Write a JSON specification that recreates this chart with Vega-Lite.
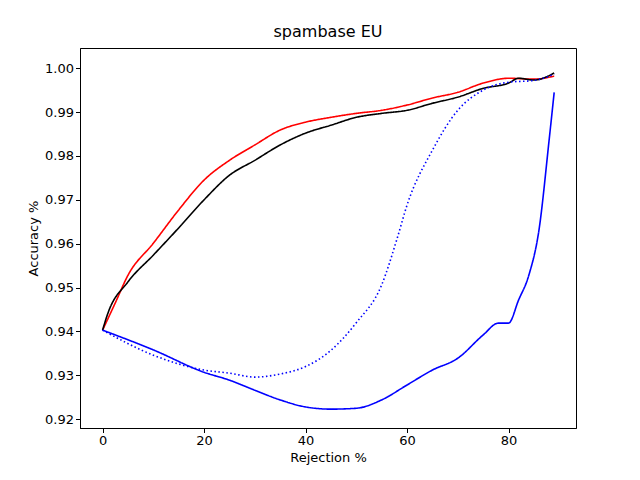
{
  "$schema": "https://vega.github.io/schema/vega-lite/v6.json",
  "width": 496,
  "height": 380,
  "autosize": "none",
  "padding": {"left": 80, "top": 48, "right": 64, "bottom": 52},
  "background": "white",
  "title": {"text": "spambase EU", "font": "DejaVu Sans", "fontSize": 16, "fontWeight": "normal", "color": "black", "offset": 8},
  "data": {"values": [
    {"s": "red", "x": 0, "y": 0.9403}, {"s": "red", "x": 2.5, "y": 0.9465}, {"s": "red", "x": 5, "y": 0.9528}, {"s": "red", "x": 10, "y": 0.9601}, {"s": "red", "x": 15, "y": 0.9677}, {"s": "red", "x": 20, "y": 0.9745}, {"s": "red", "x": 25, "y": 0.979}, {"s": "red", "x": 30, "y": 0.9825}, {"s": "red", "x": 35, "y": 0.9859}, {"s": "red", "x": 40, "y": 0.9877}, {"s": "red", "x": 45, "y": 0.9888}, {"s": "red", "x": 50, "y": 0.9897}, {"s": "red", "x": 55, "y": 0.9904}, {"s": "red", "x": 60, "y": 0.9916}, {"s": "red", "x": 65, "y": 0.9932}, {"s": "red", "x": 70, "y": 0.9945}, {"s": "red", "x": 75, "y": 0.9966}, {"s": "red", "x": 80, "y": 0.9977}, {"s": "red", "x": 85, "y": 0.9975}, {"s": "red", "x": 89, "y": 0.9982},
    {"s": "black", "x": 0, "y": 0.9403}, {"s": "black", "x": 1, "y": 0.944}, {"s": "black", "x": 5, "y": 0.9513}, {"s": "black", "x": 10, "y": 0.9574}, {"s": "black", "x": 15, "y": 0.9636}, {"s": "black", "x": 20, "y": 0.970}, {"s": "black", "x": 25, "y": 0.9756}, {"s": "black", "x": 30, "y": 0.979}, {"s": "black", "x": 35, "y": 0.9825}, {"s": "black", "x": 40, "y": 0.9852}, {"s": "black", "x": 45, "y": 0.987}, {"s": "black", "x": 50, "y": 0.9888}, {"s": "black", "x": 55, "y": 0.9897}, {"s": "black", "x": 60, "y": 0.9904}, {"s": "black", "x": 65, "y": 0.992}, {"s": "black", "x": 70, "y": 0.9934}, {"s": "black", "x": 75, "y": 0.9954}, {"s": "black", "x": 80, "y": 0.9966}, {"s": "black", "x": 82, "y": 0.9977}, {"s": "black", "x": 85, "y": 0.9973}, {"s": "black", "x": 89, "y": 0.9989},
    {"s": "dot", "x": 0, "y": 0.9403}, {"s": "dot", "x": 10, "y": 0.9346}, {"s": "dot", "x": 20, "y": 0.9312}, {"s": "dot", "x": 25, "y": 0.9305}, {"s": "dot", "x": 30, "y": 0.9296}, {"s": "dot", "x": 35, "y": 0.9303}, {"s": "dot", "x": 40, "y": 0.932}, {"s": "dot", "x": 45, "y": 0.9357}, {"s": "dot", "x": 50, "y": 0.942}, {"s": "dot", "x": 55, "y": 0.9506}, {"s": "dot", "x": 58, "y": 0.961}, {"s": "dot", "x": 60, "y": 0.9688}, {"s": "dot", "x": 65, "y": 0.9813}, {"s": "dot", "x": 70, "y": 0.9904}, {"s": "dot", "x": 75, "y": 0.995}, {"s": "dot", "x": 80, "y": 0.9968}, {"s": "dot", "x": 85, "y": 0.9972}, {"s": "dot", "x": 89, "y": 0.9986},
    {"s": "blue", "x": 0, "y": 0.9403}, {"s": "blue", "x": 10, "y": 0.9358}, {"s": "blue", "x": 20, "y": 0.9307}, {"s": "blue", "x": 25, "y": 0.9289}, {"s": "blue", "x": 30, "y": 0.9266}, {"s": "blue", "x": 35, "y": 0.9244}, {"s": "blue", "x": 40, "y": 0.9228}, {"s": "blue", "x": 45, "y": 0.9223}, {"s": "blue", "x": 50, "y": 0.9225}, {"s": "blue", "x": 55, "y": 0.9244}, {"s": "blue", "x": 60, "y": 0.9278}, {"s": "blue", "x": 65, "y": 0.9312}, {"s": "blue", "x": 70, "y": 0.9339}, {"s": "blue", "x": 75, "y": 0.9392}, {"s": "blue", "x": 78, "y": 0.9419}, {"s": "blue", "x": 80, "y": 0.9419}, {"s": "blue", "x": 82, "y": 0.9472}, {"s": "blue", "x": 84, "y": 0.9528}, {"s": "blue", "x": 86, "y": 0.9631}, {"s": "blue", "x": 88, "y": 0.9836}, {"s": "blue", "x": 89, "y": 0.9945}
  ]},
  "mark": {"type": "line", "strokeWidth": 1.6, "clip": true, "interpolate": "monotone"},
  "encoding": {
    "x": {"field": "x", "type": "quantitative", "title": "Rejection %",
      "scale": {"domain": [-4.45, 93.3], "nice": false, "zero": false},
      "axis": {"values": [0, 20, 40, 60, 80], "grid": false, "tickColor": "black", "domainColor": "black", "labelColor": "black", "titleColor": "black", "labelFont": "DejaVu Sans", "titleFont": "DejaVu Sans", "labelFontSize": 13, "titleFontSize": 13, "titleFontWeight": "normal", "tickSize": 4.5}},
    "y": {"field": "y", "type": "quantitative", "title": "Accuracy %",
      "scale": {"domain": [0.918, 1.0046], "nice": false, "zero": false},
      "axis": {"values": [0.92, 0.93, 0.94, 0.95, 0.96, 0.97, 0.98, 0.99, 1.0], "format": ".2f", "grid": false, "tickColor": "black", "domainColor": "black", "labelColor": "black", "titleColor": "black", "labelFont": "DejaVu Sans", "titleFont": "DejaVu Sans", "labelFontSize": 13, "titleFontSize": 13, "titleFontWeight": "normal", "tickSize": 4.5}},
    "color": {"field": "s", "type": "nominal", "legend": null,
      "scale": {"domain": ["red", "black", "dot", "blue"], "range": ["red", "black", "blue", "blue"]}},
    "strokeDash": {"field": "s", "type": "nominal", "legend": null,
      "scale": {"domain": ["red", "black", "dot", "blue"], "range": [[1, 0], [1, 0], [1.5, 2.5], [1, 0]]}},
    "order": {"field": "x", "type": "quantitative"}
  },
  "config": {"view": {"stroke": "black", "strokeWidth": 1}}
}
